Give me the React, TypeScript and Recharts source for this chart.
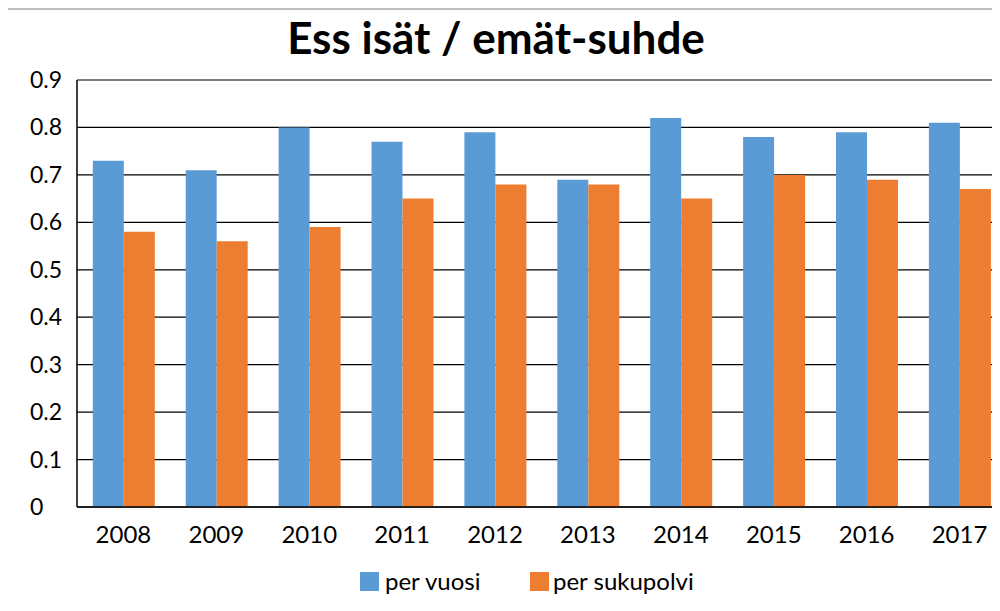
import React from "react";
import {
  BarChart,
  Bar,
  XAxis,
  YAxis,
  CartesianGrid,
  Legend,
} from "recharts";

const years = ["2008", "2009", "2010", "2011", "2012", "2013", "2014", "2015", "2016", "2017"];
const perVuosi = [0.73, 0.71, 0.8, 0.77, 0.79, 0.69, 0.82, 0.78, 0.79, 0.81];
const perSukupolvi = [0.58, 0.56, 0.59, 0.65, 0.68, 0.68, 0.65, 0.7, 0.69, 0.67];
const yTicks = [0, 0.1, 0.2, 0.3, 0.4, 0.5, 0.6, 0.7, 0.8, 0.9];

const data = years.map((y, i) => ({
  year: y,
  vuosi: perVuosi[i],
  sukupolvi: perSukupolvi[i],
}));

const FONT = "Lato, 'Open Sans', sans-serif";
const BLUE = "#5B9BD5";
const ORANGE = "#ED7D31";

const YTick = (props: any) => {
  const { y, payload } = props;
  return (
    <text x={30} y={y} dy={8} textAnchor="start" fontSize={23} fontFamily={FONT} fill="#000">
      {String(payload.value)}
    </text>
  );
};

const LegendBox = () => (
  <div style={{ position: "relative", height: 30, fontFamily: FONT, fontSize: 24, color: "#000" }}>
    <div style={{ position: "absolute", left: 360, top: 6, width: 19, height: 19, background: BLUE }} />
    <div style={{ position: "absolute", left: 385, top: 0, lineHeight: "30px" }}>per vuosi</div>
    <div style={{ position: "absolute", left: 530, top: 6, width: 19, height: 19, background: ORANGE }} />
    <div style={{ position: "absolute", left: 553, top: 0, lineHeight: "30px" }}>per sukupolvi</div>
  </div>
);

export default function App() {
  return (
    <div
      style={{
        margin: -8,
        width: 1000,
        height: 611,
        overflow: "hidden",
        position: "relative",
        background: "#fff",
      }}
    >
      <div
        style={{
          position: "absolute",
          left: 6,
          top: 8,
          width: 1100,
          height: 1000,
          borderLeft: "2px solid #bfbfbf",
          borderTop: "2px solid #bfbfbf",
        }}
      />
      <div style={{ position: "absolute", left: 0, top: 0 }}>
        <BarChart
          width={1012}
          height={611}
          data={data}
          margin={{ top: 80, right: 6, left: 0, bottom: 54 }}
          barCategoryGap="17%"
          barGap={0}
        >
          <text x={496} y={54} textAnchor="middle" fontSize={44} fontWeight={700} fontFamily={FONT} fill="#000">
            Ess isät / emät-suhde
          </text>
          <CartesianGrid vertical={false} stroke="#000" strokeWidth={1.2} />
          <XAxis
            dataKey="year"
            height={50}
            tickLine={false}
            axisLine={{ stroke: "#000", strokeWidth: 1.5 }}
            tick={{ fontSize: 24, fontFamily: FONT, fill: "#000" }}
            tickMargin={13}
            interval={0}
          />
          <YAxis
            width={77}
            domain={[0, 0.9]}
            ticks={yTicks}
            tickLine={false}
            axisLine={{ stroke: "#000", strokeWidth: 1.5 }}
            tick={<YTick />}
            interval={0}
          />
          <Legend
            verticalAlign="middle"
            align="center"
            layout="horizontal"
            wrapperStyle={{ top: 566, left: 0, width: 1000 }}
            content={<LegendBox />}
          />
          <Bar dataKey="vuosi" name="per vuosi" fill={BLUE} isAnimationActive={false} />
          <Bar dataKey="sukupolvi" name="per sukupolvi" fill={ORANGE} isAnimationActive={false} />
        </BarChart>
      </div>
    </div>
  );
}
